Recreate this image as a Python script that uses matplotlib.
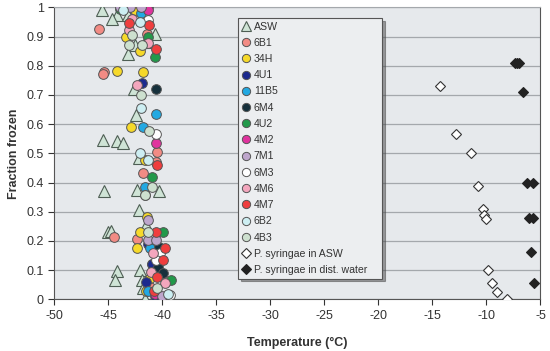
import numpy as np
import matplotlib
matplotlib.use("Agg")
import matplotlib.pyplot as plt

plt.rcParams['font.family'] = ['Liberation Sans', 'DejaVu Sans']
plt.rcParams['axes.unicode_minus'] = False

# ASW triangles (temperature, fraction frozen)
asw_t = [-45.6, -44.2, -43.2, -44.7, -40.7, -42.5, -43.2, -41.6, -42.6, -42.4, -45.45, -44.2,
         -43.6, -42.2, -45.36, -42.36, -40.3, -42.2, -41.5, -45.05, -44.74, -44.2, -44.4,
         -42.05, -41.9, -41.65, -40.8, -41.8]
asw_f = [0.99, 0.975, 0.975, 0.96, 0.91, 0.87, 0.84, 0.88, 0.72, 0.63, 0.546, 0.544,
         0.535, 0.483, 0.372, 0.375, 0.372, 0.306, 0.255, 0.23, 0.234, 0.097, 0.066,
         0.10, 0.066, 0.0, 0.005, 0.04]

s_6b1_t = [-45.9, -45.4, -45.5, -41.4, -40.5, -40.6, -41.75, -44.5, -42.3, -41.0, -41.1]
s_6b1_f = [0.926, 0.78, 0.772, 0.91, 0.506, 0.47, 0.432, 0.212, 0.206, 0.12, 0.043]
s_34h_t = [-42.5, -43.4, -42.05, -44.2, -41.8, -42.9, -41.6, -41.4, -42.1, -42.3, -41.1, -41.5]
s_34h_f = [0.99, 0.90, 0.849, 0.782, 0.777, 0.59, 0.477, 0.283, 0.232, 0.177, 0.072, 0.03]
s_4u1_t = [-41.9, -41.3, -41.0, -41.5, -40.66]
s_4u1_f = [0.74, 0.19, 0.12, 0.06, 0.01]
s_11b5_t = [-41.95, -40.55, -41.8, -41.6, -41.1, -41.3]
s_11b5_f = [0.98, 0.634, 0.59, 0.386, 0.175, 0.03]
s_6m4_t = [-40.55, -40.35, -40.4, -39.9]
s_6m4_f = [0.72, 0.18, 0.11, 0.089]
s_4u2_t = [-41.3, -43.9, -41.3, -40.66, -40.97, -39.9, -39.2]
s_4u2_f = [1.0, 0.995, 0.90, 0.831, 0.42, 0.232, 0.066]
s_4m2_t = [-41.3, -40.55, -40.7]
s_4m2_f = [0.99, 0.535, 0.02]
s_7m1_t = [-43.9, -43.0, -42.0, -41.3, -41.3, -40.6, -40.04]
s_7m1_f = [1.0, 1.0, 1.0, 0.272, 0.205, 0.203, 0.01]
s_6m3_t = [-41.3, -40.55, -41.6, -40.2, -40.55, -39.27]
s_6m3_f = [0.957, 0.565, 0.357, 0.16, 0.135, 0.015]
s_4m6_t = [-42.8, -43.1, -41.3, -42.3, -40.9, -41.06, -39.73]
s_4m6_f = [0.96, 0.923, 0.877, 0.734, 0.16, 0.095, 0.055]
s_4m7_t = [-43.1, -41.2, -40.6, -40.5, -40.55, -39.73, -39.9, -40.5, -40.8]
s_4m7_f = [0.946, 0.94, 0.857, 0.46, 0.232, 0.175, 0.135, 0.077, 0.03]
s_6b2_t = [-43.6, -42.05, -41.95, -42.1, -41.3, -39.5]
s_6b2_f = [0.99, 0.95, 0.655, 0.50, 0.477, 0.02]
s_4b3_t = [-42.8, -43.1, -41.9, -42.0, -41.2, -40.97, -41.6, -41.3, -40.5]
s_4b3_f = [0.906, 0.871, 0.87, 0.70, 0.577, 0.386, 0.357, 0.232, 0.04]

# P. syringae
ps_asw_t = [-14.3, -12.86, -11.44, -10.76, -10.35, -10.2, -10.02, -9.83, -9.49, -9.02, -8.07]
ps_asw_f = [0.73, 0.565, 0.50, 0.39, 0.31, 0.29, 0.275, 0.10, 0.055, 0.025, 0.0]
ps_dw_t = [-7.4, -7.2, -7.0, -6.61, -6.27, -5.71, -6.03, -5.71, -5.87, -5.57]
ps_dw_f = [0.81, 0.81, 0.81, 0.711, 0.397, 0.397, 0.278, 0.278, 0.161, 0.055]

circles = [
    ("6B1", s_6b1_t, s_6b1_f, "#f28b84"),
    ("34H", s_34h_t, s_34h_f, "#f6d92a"),
    ("4U1", s_4u1_t, s_4u1_f, "#1c2a8e"),
    ("11B5", s_11b5_t, s_11b5_f, "#22a9e2"),
    ("6M4", s_6m4_t, s_6m4_f, "#15303c"),
    ("4U2", s_4u2_t, s_4u2_f, "#22994a"),
    ("4M2", s_4m2_t, s_4m2_f, "#e0339e"),
    ("7M1", s_7m1_t, s_7m1_f, "#bea6cc"),
    ("6M3", s_6m3_t, s_6m3_f, "#ffffff"),
    ("4M6", s_4m6_t, s_4m6_f, "#f3a6bd"),
    ("4M7", s_4m7_t, s_4m7_f, "#ef3e3e"),
    ("6B2", s_6b2_t, s_6b2_f, "#cdeef2"),
    ("4B3", s_4b3_t, s_4b3_f, "#cde0cf"),
]

fig = plt.figure(figsize=(5.5, 3.51), dpi=100)
ax = fig.add_axes([0.0987, 0.147, 0.884, 0.832])
ax.set_facecolor("#e6e9ec")

ax.plot(asw_t, asw_f, ls="none", marker="^", ms=8, mfc="#cfe4d6", mec="#4e5e54",
        mew=0.8, label="ASW", zorder=3)
for name, t, f, c in circles:
    ax.plot(t, f, ls="none", marker="o", ms=7, mfc=c, mec="#555555", mew=0.7,
            label=name, zorder=4)
ax.plot(ps_asw_t, ps_asw_f, ls="none", marker="D", ms=5.5, mfc="white", mec="#333333",
        mew=0.8, label="P. syringae in ASW", zorder=4)
ax.plot(ps_dw_t, ps_dw_f, ls="none", marker="D", ms=5.5, mfc="#222222", mec="#222222",
        mew=0.8, label="P. syringae in dist. water", zorder=4)

ax.set_xlim(-50, -5)
ax.set_ylim(0, 1)
ax.set_xticks(np.arange(-50, -4, 5))
ax.set_yticks(np.arange(0, 1.01, 0.1))
ax.set_yticklabels(["0", "0.1", "0.2", "0.3", "0.4", "0.5", "0.6", "0.7", "0.8", "0.9", "1"])
ax.yaxis.grid(True, color="#a4a8ac", lw=0.9)
ax.set_axisbelow(True)
ax.tick_params(labelsize=9, colors="#333333", length=4, width=0.8, direction="out")
for sp in ["left", "bottom", "right"]:
    ax.spines[sp].set_color("#555555")
ax.spines["top"].set_color("#a4a8ac")

ax.set_xlabel("Temperature (°C)", fontsize=9, fontweight="bold", color="#333333", labelpad=11)
ax.set_ylabel("Fraction frozen", fontsize=9, fontweight="bold", color="#333333", labelpad=5)

leg = ax.legend(loc="upper left", bbox_to_anchor=(0.378, 0.964, 0.296, 0.0), mode="expand",
                fontsize=7.6, markerscale=0.85,
                frameon=True, fancybox=False, shadow=True, labelspacing=0.59,
                handlelength=0.8, handletextpad=0.35, borderpad=0.35, borderaxespad=0)
leg.get_frame().set_facecolor("#eceef0")
leg.get_frame().set_edgecolor("#555555")
leg.get_frame().set_linewidth(0.8)
for txt in leg.get_texts():
    txt.set_color("#333333")

fig.savefig("out.png", dpi=100)
